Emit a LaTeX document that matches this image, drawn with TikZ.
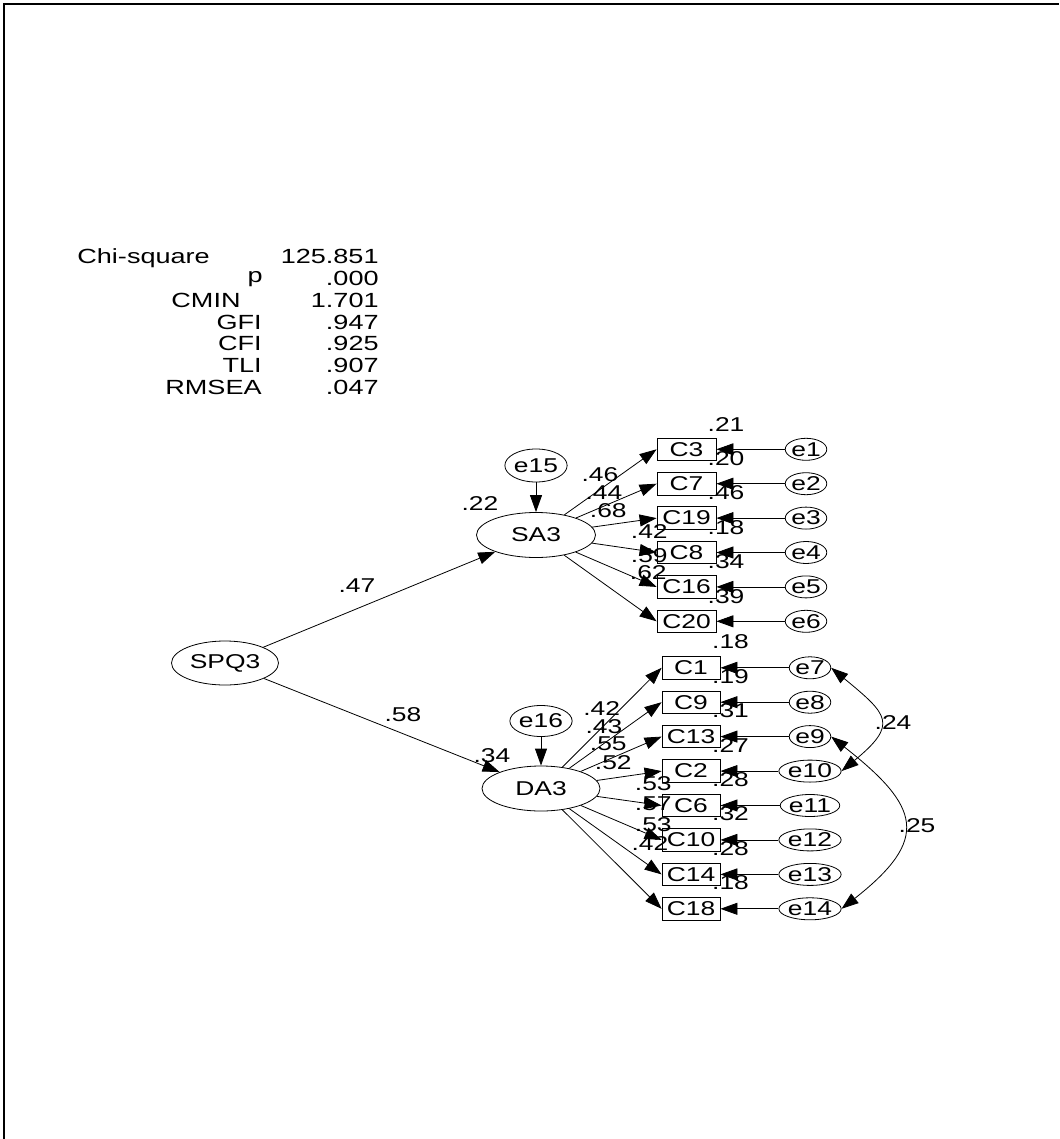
\documentclass[tikz,border=0pt]{standalone}
\usepackage{fontspec}
\setmainfont[FakeStretch=1.32]{Liberation Sans}
\usetikzlibrary{shapes.geometric,arrows.meta}
\newcommand\fsz{\fontsize{20}{20}\selectfont}
\newcommand\fst{\fontsize{20.5}{20.5}\selectfont}
\begin{document}
\begin{tikzpicture}[x=1pt,y=-1pt,font=\fsz,line width=0.8pt,
  lat/.style={ellipse,draw,inner sep=0pt,minimum width=119pt,minimum height=45pt},
  err/.style={ellipse,draw,inner sep=0pt,minimum width=45pt,minimum height=33pt},
  errs/.style={ellipse,draw,inner sep=0pt,minimum width=29pt,minimum height=22pt},
  obs/.style={rectangle,draw,inner sep=0pt,minimum width=59pt,minimum height=22.5pt},
  lbl/.style={inner sep=0pt},
  tbl/.style={inner sep=0pt,font=\fst},
  arr/.style={-{Triangle[length=17pt,width=12pt]}},
  darr/.style={{Triangle[length=17pt,width=12pt]}-{Triangle[length=17pt,width=12pt]}}]
\useasboundingbox (0,0) rectangle (1059,1139);
\draw[line width=2pt] (4,1139) -- (4,4) -- (1059,4);

% fit table
\node[tbl,anchor=base west] (t0) at (77,263.7) {Chi-square};
\node[tbl,anchor=base east] (tp) at (263,282.5) {p};
\node[tbl,anchor=base east] (tc) at (241,307.3) {CMIN};
\foreach \k/\yy in {GFI/329.1,CFI/350.9,TLI/372.7,RMSEA/394.5}
  \node[tbl,anchor=base east] (t\k) at (262,\yy) {\k};
\foreach \k/\v/\yy in {a/125.851/263.7,b/.000/285.5,c/1.701/307.3,d/.947/329.1,e/.925/350.9,f/.907/372.7,g/.047/394.5}
  \node[tbl,anchor=base east] (v\k) at (379,\yy) {\v};

% latent variables
\node[lat,minimum width=107pt,minimum height=44pt] (SPQ3) at (225,663) {SPQ3};
\node[lat] (SA3) at (536,535) {SA3};
\node[lat,minimum width=118pt] (DA3) at (541,788.5) {DA3};
\node[err] (e15) at (536,465.5) {e15};
\node[err,minimum height=31pt] (e16) at (541,721) {e16};

\draw[arr] (SPQ3) -- (SA3);
\draw[arr] (SPQ3) -- (DA3);
\draw[arr] (e15) -- (SA3);
\draw[arr] (e16) -- (DA3);

\node[lbl] (l47) at (357,586) {.47};
\node[lbl] (l58) at (403,715) {.58};
\node[lbl] (l22) at (480,504) {.22};
\node[lbl] (l34) at (492,756) {.34};

% SA3 indicators
\foreach \n/\yy/\e/\r in {C3/449.3/e1/.21,C7/483.7/e2/.20,C19/518.1/e3/.46,C8/552.5/e4/.18,C16/586.9/e5/.34,C20/621.3/e6/.39}{
  \node[obs] (\n) at (686.5,\yy) {\n};
  \node[errs] (\e) at (806,\yy) {\e};
  \draw[arr] (\e) -- (\n);
  \draw[arr] (SA3) -- (\n.west);
  \node[lbl] (r\n) at (726,\yy-25) {\r};
}
% DA3 indicators
\foreach \n/\yy/\e/\r in {C1/667.8/e7/.18,C9/702.2/e8/.19,C13/736.6/e9/.31,C2/771.1/e10/.27,C6/805.5/e11/.28,C10/839.9/e12/.32,C14/874.4/e13/.28,C18/908.8/e14/.18}{
  \node[obs,minimum width=58pt] (\n) at (691,\yy) {\n};
  \node[errs] (\e) at (810,\yy) {\e};
  \draw[arr] (\e) -- (\n);
  \draw[arr] (DA3) -- (\n.west);
  \node[lbl] (r\n) at (730.5,\yy-26) {\r};
}

% loadings SA3
\node[lbl] (a1) at (600,475) {.46};
\node[lbl] (a2) at (604,492.7) {.44};
\node[lbl] (a3) at (608.3,511) {.68};
\node[lbl] (a4) at (649.3,532) {.42};
\node[lbl] (a5) at (649.3,555.3) {.59};
\node[lbl] (a6) at (648.3,572.7) {.62};
% loadings DA3
\node[lbl] (b1) at (601.7,708.3) {.42};
\node[lbl] (b2) at (604,726.7) {.43};
\node[lbl] (b3) at (608.3,743.3) {.55};
\node[lbl] (b4) at (613.3,762.7) {.52};
\node[lbl] (b5) at (653.3,784) {.53};
\node[lbl] (b6) at (653.3,803.3) {.57};
\node[lbl] (b7) at (653.3,825) {.53};
\node[lbl] (b8) at (650,843.3) {.42};

% covariances
\draw[darr] (e7.east) .. controls +(57,47) and +(57,-47) .. (e10.east);
\draw[darr] (e9.east) .. controls +(89,70) and +(89,-70) .. (e14.east);
\node[lbl] (c24) at (893,723) {.24};
\node[lbl] (c25) at (917,826) {.25};
\end{tikzpicture}
\end{document}
